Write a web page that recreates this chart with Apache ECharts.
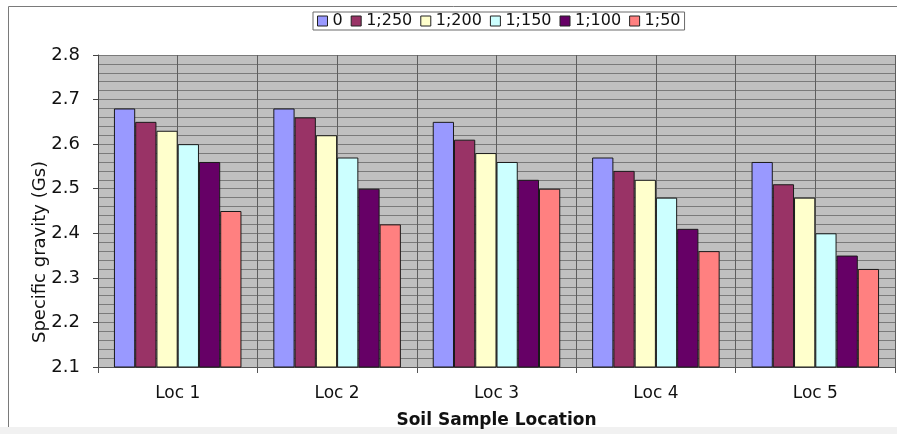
<!DOCTYPE html>
<html>
<head>
<meta charset="utf-8">
<script src="https://cdn.jsdelivr.net/npm/echarts@6/dist/echarts.min.js"></script>
<style>
  html, body { margin: 0; padding: 0; background: #ffffff; }
  #chart { width: 897px; height: 434px; }
</style>
</head>
<body>
<div id="chart"></div>
<script>
// Specific gravity of soil samples by location and mix ratio
const locations = ['Loc 1', 'Loc 2', 'Loc 3', 'Loc 4', 'Loc 5'];
const seriesNames = ['0', '1;250', '1;200', '1;150', '1;100', '1;50'];
const ratio0   = [2.68, 2.68, 2.65, 2.57, 2.56];
const ratio250 = [2.65, 2.66, 2.61, 2.54, 2.51];
const ratio200 = [2.63, 2.62, 2.58, 2.52, 2.48];
const ratio150 = [2.60, 2.57, 2.56, 2.48, 2.40];
const ratio100 = [2.56, 2.50, 2.52, 2.41, 2.35];
const ratio50  = [2.45, 2.42, 2.50, 2.36, 2.32];
const yTicks = ['2.1', '2.2', '2.3', '2.4', '2.5', '2.6', '2.7', '2.8'];

const seriesValues = [ratio0, ratio250, ratio200, ratio150, ratio100, ratio50];
const colors = ['#9999ff', '#993366', '#ffffcc', '#ccffff', '#660066', '#ff8080'];
const font = 'DejaVu Sans';
const ink = '#111111';

// half-category slots used only for the vertical grid lines
const halfSlots = [];
locations.forEach(l => { halfSlots.push(l + 'a'); halfSlots.push(l + 'b'); });

const chart = echarts.init(document.getElementById('chart'));
chart.setOption({
  animation: false,
  backgroundColor: '#ffffff',
  textStyle: { fontFamily: font, color: ink },
  graphic: [
    {
      type: 'polyline', z: -10, silent: true,
      shape: { points: [[8.5, 427], [8.5, 6.5], [900, 6.5]] },
      style: { fill: 'none', stroke: '#7a7a7a', lineWidth: 1 }
    },
    {
      type: 'rect', z: -10, silent: true,
      shape: { x: 0, y: 427, width: 897, height: 7 },
      style: { fill: '#f1f1f1' }
    },
    {
      type: 'text', silent: true,
      x: 40, y: 252, rotation: Math.PI / 2,
      style: {
        text: 'Specific gravity (Gs)',
        fontFamily: font, fontSize: 18, fill: ink,
        align: 'center', verticalAlign: 'middle'
      }
    }
  ],
  legend: {
    top: 12,
    left: 313,
    data: seriesNames,
    itemWidth: 10,
    itemHeight: 10,
    itemGap: 8,
    padding: [1, 4, 1, 4],
    borderColor: '#6a6a6a',
    borderWidth: 1,
    icon: 'rect',
    itemStyle: { borderColor: '#222', borderWidth: 1 },
    textStyle: { fontFamily: font, fontSize: 16, color: ink }
  },
  grid: {
    left: 98, right: 2, top: 55, bottom: 64,
    show: true, backgroundColor: '#c0c0c0', borderWidth: 0
  },
  xAxis: [
    {
      type: 'category',
      data: locations,
      name: 'Soil Sample Location',
      nameLocation: 'middle',
      nameGap: 45,
      nameTextStyle: { fontFamily: font, fontSize: 17, fontWeight: 'bold', color: ink },
      axisLine: { show: true, lineStyle: { color: '#555', width: 1 } },
      axisTick: { show: true, length: 6, lineStyle: { color: '#555' } },
      axisLabel: { margin: 18, fontFamily: font, fontSize: 17, color: ink },
      splitLine: { show: false }
    },
    {
      type: 'category',
      data: halfSlots,
      position: 'bottom',
      axisLine: { show: false },
      axisTick: { show: false },
      axisLabel: { show: false },
      splitLine: { show: true, lineStyle: { color: '#5e5e5e', width: 1 } }
    }
  ],
  yAxis: {
    type: 'value',
    min: 2.1,
    max: 2.8,
    interval: 0.1,
    axisLine: { show: true, lineStyle: { color: '#444', width: 1 } },
    axisTick: { show: true, length: 5, lineStyle: { color: '#444' } },
    axisLabel: {
      margin: 18, fontFamily: font, fontSize: 18, color: ink,
      formatter: v => yTicks[Math.round((v - 2.1) * 10)]
    },
    splitLine: { show: true, lineStyle: { color: '#7a7a7a', width: 1 } },
    minorTick: { show: false, splitNumber: 5 },
    minorSplitLine: { show: true, lineStyle: { color: '#7a7a7a', width: 1 } }
  },
  series: seriesNames.map((name, i) => ({
    name: name,
    type: 'bar',
    xAxisIndex: 0,
    data: seriesValues[i],
    barGap: '0%',
    barCategoryGap: '20%',
    itemStyle: { color: colors[i], borderColor: '#1a1a1a', borderWidth: 1 },
    z: 3
  }))
});
</script>
</body>
</html>
